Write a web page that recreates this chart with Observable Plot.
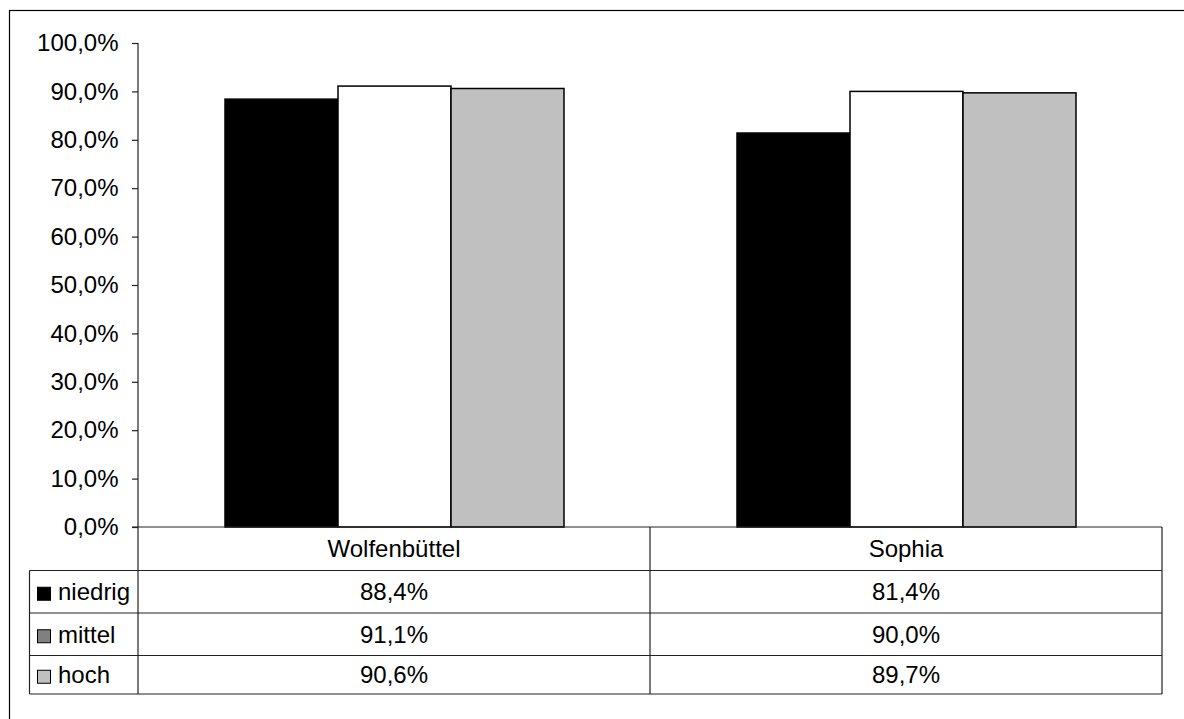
<!DOCTYPE html>
<html>
<head>
<meta charset="utf-8">
<script src="https://cdn.jsdelivr.net/npm/d3@7"></script>
<script src="https://cdn.jsdelivr.net/npm/@observablehq/plot@0.6"></script>
<style>
  html, body { margin: 0; padding: 0; background: #fff; }
  #chart { position: relative; width: 1184px; height: 719px; overflow: hidden; }
  #chart svg { display: block; }
</style>
</head>
<body>
<div id="chart"></div>
<script>
// Schools and achievement groups
const groups = ["Wolfenbüttel", "Sophia"];
const series = ["niedrig", "mittel", "hoch"];

// Shares per group (one value per school)
const niedrig = [0.884, 0.814];
const mittel  = [0.911, 0.900];
const hoch    = [0.906, 0.897];

// Y axis ticks
const yTicks = [0, 0.1, 0.2, 0.3, 0.4, 0.5, 0.6, 0.7, 0.8, 0.9, 1.0];

// Colours: bar fills and the swatches shown in the data table
const barFill = ["#000000", "#ffffff", "#c0c0c0"];
const keyFill = ["#000000", "#808080", "#c0c0c0"];

const valuesBySeries = { niedrig, mittel, hoch };
const rows = groups.flatMap((g, i) =>
  series.map(s => ({ group: g, series: s, value: valuesBySeries[s][i] }))
);

const fmt = v => (v * 100).toFixed(1).replace(".", ",") + "%";
const FONT = "'Liberation Sans', Arial, Helvetica, sans-serif";
const INK = "#222";

const chart = Plot.plot({
  width: 1184,
  height: 719,
  marginLeft: 138,
  marginRight: 22,
  marginTop: 43,
  marginBottom: 192,
  style: { fontFamily: FONT, fontSize: "24px", color: "#000", background: "transparent", overflow: "visible" },
  fx: { domain: groups, padding: 0, axis: null, label: null },
  x: { domain: series, paddingInner: 0, paddingOuter: 0.75, axis: null, label: null },
  y: { domain: [0, 1], axis: null },
  color: { domain: series, range: barFill },
  marks: [
    Plot.barY(rows, {
      fx: "group", x: "series", y: "value",
      fill: "series", stroke: "#000", strokeWidth: 1.5, inset: 0
    }),
    Plot.axisY({
      ticks: yTicks, tickFormat: fmt, tickSize: 6, tickPadding: 14,
      stroke: INK, strokeWidth: 1.2, fill: "#000", label: null, fontSize: 24
    })
  ]
});

document.getElementById("chart").appendChild(chart);

// Axis line, data table and outer border drawn with the chart's own scales
const svg = d3.select(chart);
const y = chart.scale("y");
const fx = chart.scale("fx");
const yTop = y.apply(1);
const yBase = y.apply(0);
const left = fx.apply(groups[0]);
const bw = fx.bandwidth;
const right = fx.apply(groups[groups.length - 1]) + bw;
const tableLeft = 29.5;
const rowEdges = [yBase, yBase + 43.5, yBase + 86, yBase + 128.5, yBase + 167];

const g = svg.append("g").attr("fill", "none").attr("stroke", INK).attr("stroke-width", 1.2);

// vertical axis line, continuing down through the table
g.append("line").attr("x1", left).attr("x2", left).attr("y1", yTop).attr("y2", rowEdges[4]);
// baseline (top of the table header)
g.append("line").attr("x1", left - 6).attr("x2", right).attr("y1", yBase).attr("y2", yBase);
// column separators
groups.forEach((grp, i) => {
  const xr = fx.apply(grp) + bw;
  g.append("line").attr("x1", xr).attr("x2", xr).attr("y1", yBase).attr("y2", rowEdges[4]);
});
// legend column left edge
g.append("line").attr("x1", tableLeft).attr("x2", tableLeft).attr("y1", rowEdges[1]).attr("y2", rowEdges[4]);
// row separators
rowEdges.slice(1).forEach(ye => {
  g.append("line").attr("x1", tableLeft).attr("x2", right).attr("y1", ye).attr("y2", ye);
});

const t = svg.append("g").attr("font-family", FONT).attr("font-size", 24).attr("fill", "#000");
const rowMid = i => (rowEdges[i] + rowEdges[i + 1]) / 2;

// header row: school names
groups.forEach(grp => {
  t.append("text").attr("x", fx.apply(grp) + bw / 2).attr("y", rowMid(0))
    .attr("dy", "0.35em").attr("text-anchor", "middle").text(grp);
});

// data rows: swatch, label and values
series.forEach((s, si) => {
  const cy = rowMid(si + 1);
  svg.append("rect").attr("x", 37.5).attr("y", cy - 4.5).attr("width", 13).attr("height", 13)
    .attr("fill", keyFill[si]).attr("stroke", "#000").attr("stroke-width", 1);
  t.append("text").attr("x", 58).attr("y", cy).attr("dy", "0.35em")
    .attr("text-anchor", "start").text(s);
  groups.forEach((grp, gi) => {
    t.append("text").attr("x", fx.apply(grp) + bw / 2).attr("y", cy)
      .attr("dy", "0.35em").attr("text-anchor", "middle").text(fmt(valuesBySeries[s][gi]));
  });
});

// outer chart border
svg.append("rect").attr("x", 9.5).attr("y", 10.5).attr("width", 1300).attr("height", 900)
  .attr("fill", "none").attr("stroke", "#000").attr("stroke-width", 1.2);
</script>
</body>
</html>
